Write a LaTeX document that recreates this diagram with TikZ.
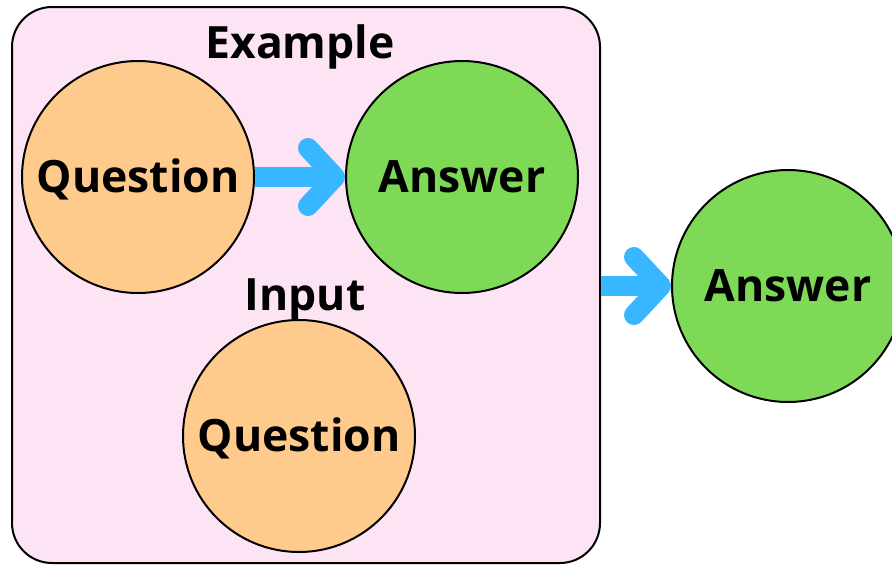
\documentclass[tikz,border=0pt]{standalone}
\usepackage{fontspec}
\setmainfont{Open Sans}
\usetikzlibrary{arrows.meta}
\definecolor{boxpink}{HTML}{FCE4F5}
\definecolor{qorange}{HTML}{FFCB8C}
\definecolor{agreen}{HTML}{7ED957}
\definecolor{flowblue}{HTML}{38B6FF}
\tikzset{
  bubble/.style={circle, draw=black, line width=2pt, minimum size=232pt, inner sep=0pt,
    text height=31pt, text depth=0pt,
    font=\fontsize{44.5}{50}\selectfont\bfseries},
  qbubble/.style={bubble, fill=qorange},
  abubble/.style={bubble, fill=agreen},
  caption/.style={text height=31pt, text depth=0pt,
    font=\fontsize{44.5}{50}\selectfont\bfseries},
  flow/.style={draw=flowblue, line width=20pt,
    -{Straight Barb[length=27pt, width=58pt, round]}},
}
\begin{document}
\begin{tikzpicture}[x=1pt, y=-1pt]
  \useasboundingbox (0,0) rectangle (892,565);
  % container for the example and the input
  \node (frame) [draw=black, line width=2pt, fill=boxpink, rounded corners=40pt,
    minimum width=588pt, minimum height=556pt, inner sep=0pt] at (306,285) {};
  \node (extitle) [caption] at (300,43) {Example};
  \node (q1) [qbubble] at (138,177) {Question};
  \node (a1) [abubble] at (462,177) {Answer};
  \node (intitle) [caption] at (305,295) {Input};
  \node (q2) [qbubble] at (299,436) {Question};
  \node (a2) [abubble] at (788,286) {Answer};
  \draw[flow] (q1.east) -- (a1.west);
  \draw[flow] (frame.east |- a2.west) -- (a2.west);
\end{tikzpicture}
\end{document}
